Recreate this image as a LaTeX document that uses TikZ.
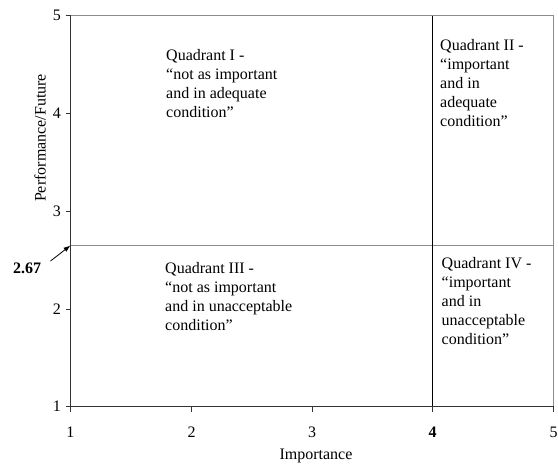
\documentclass[tikz,border=0pt]{standalone}
\usepackage{fontspec}
\setmainfont{Liberation Serif}
\usetikzlibrary{arrows.meta}
\begin{document}
\begin{tikzpicture}[x=1pt,y=-1pt,
  txt/.style={inner sep=0pt,font=\fontsize{16}{19}\selectfont},
  quad/.style={txt,align=left,anchor=north west},
  axisline/.style={draw=black!80,line width=0.9pt},
  border/.style={draw=black!45,line width=0.9pt},
  tick/.style={draw=black!80,line width=0.8pt}]
\useasboundingbox (0,0) rectangle (558,466);
% corners
\coordinate (o) at (70.5,406.7);
\coordinate (tl) at (70.5,15.5);
\coordinate (br) at (553.5,406.7);
\coordinate (tr) at (553.5,15.5);
\coordinate (hl) at (70.5,245.5);
\coordinate (hr) at (553.5,245.5);
\coordinate (vt) at (432.7,15.5);
\coordinate (vb) at (432.7,406.7);
% border and divider lines
\draw[border] (tl) -- (tr) -- (br);
\draw[border] (hl) -- (hr);
\draw[draw=black,line width=0.9pt] (vt) -- (vb);
\draw[axisline] (tl) -- (o) -- (br);
% y ticks
\foreach \v/\py in {1/406.7,2/308.9,3/211.1,4/113.3,5/15.5}{
  \draw[tick] (65.5,\py) -- (70.5,\py);
  \node[txt,anchor=east] (y\v) at (61,\py) {\v};
}
% x ticks
\foreach \v/\px in {1/70.5,2/191.6,3/312.2,4/432.7,5/553.5}{
  \draw[tick] (\px,406.7) -- (\px,411.5);
}
\node[txt] (x1) at (70.5,432) {1};
\node[txt] (x2) at (191.6,432) {2};
\node[txt] (x3) at (312.2,432) {3};
\node[txt] (x4) at (432.7,432) {\bfseries 4};
\node[txt] (x5) at (553.5,432) {5};
% axis titles
\node[txt] (xt) at (316,456) {Importance};
\node[txt,rotate=90] (yt) at (40,138) {Performance/Future};
% 2.67 marker
\node[txt,font=\fontsize{16}{19}\selectfont\bfseries] (lab) at (27,268) {2.67};
\draw[-{Latex[length=7pt,width=5pt]},line width=0.8pt] (50.5,261) -- (hl);
% quadrant labels
\node[quad] (q1) at (166,49) {Quadrant I -\\“not as important\\and in adequate\\condition”};
\node[quad] (q2) at (440,39) {Quadrant II -\\“important\\and in\\adequate\\condition”};
\node[quad] (q3) at (165,262.5) {Quadrant III -\\“not as important\\and in unacceptable\\condition”};
\node[quad] (q4) at (441.5,257.5) {Quadrant IV -\\“important\\and in\\unacceptable\\condition”};
\end{tikzpicture}
\end{document}
